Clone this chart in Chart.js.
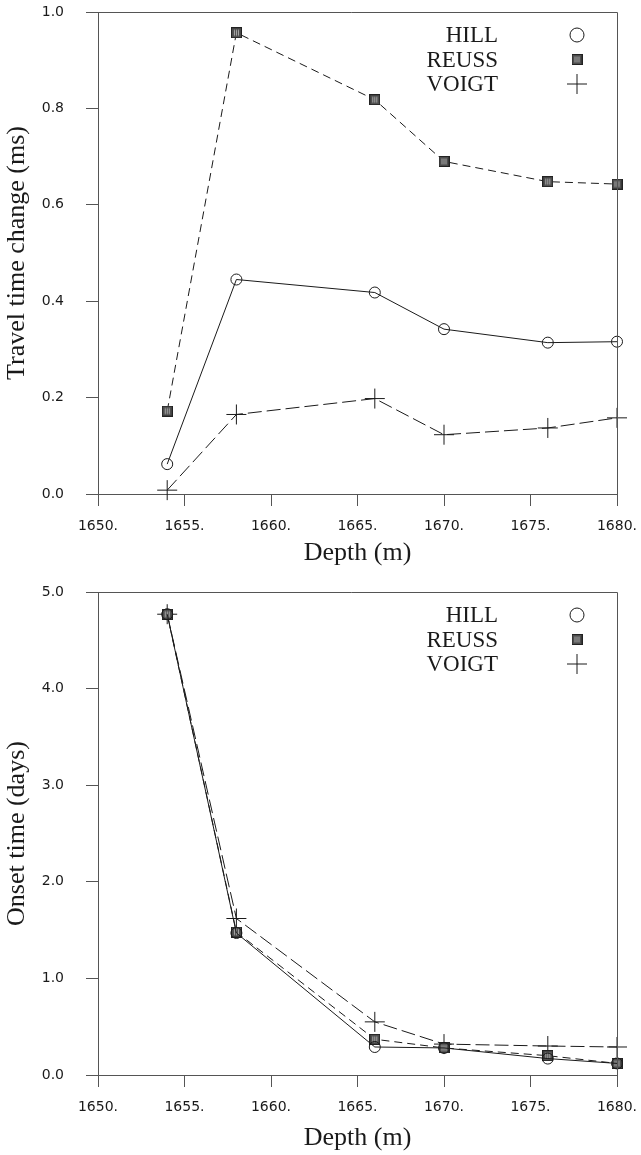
<!DOCTYPE html>
<html>
<head>
<meta charset="utf-8">
<script src="https://cdn.jsdelivr.net/npm/chart.js@4/dist/chart.umd.min.js"></script>
<style>
  body { margin: 0; background: #fff; }
  canvas { display: block; }
</style>
</head>
<body>
<canvas id="travelChart" width="641" height="580"></canvas>
<canvas id="onsetChart" width="641" height="575"></canvas>
<script>
// depths sampled (m)
const depths = [1654, 1658, 1666, 1670, 1676, 1680];
const seriesNames = ['HILL', 'REUSS', 'VOIGT'];

// travel time change (ms)
const travelHill = [0.062, 0.445, 0.418, 0.342, 0.314, 0.316];
const travelReuss = [0.172, 0.957, 0.818, 0.690, 0.648, 0.643];
const travelVoigt = [0.008, 0.165, 0.198, 0.123, 0.137, 0.158];

// onset time (days)
const onsetHill = [4.77, 1.47, 0.29, 0.28, 0.17, 0.12];
const onsetReuss = [4.77, 1.48, 0.37, 0.28, 0.20, 0.12];
const onsetVoigt = [4.77, 1.62, 0.55, 0.32, 0.30, 0.29];

const depthTicks = [1650, 1655, 1660, 1665, 1670, 1675, 1680];

const ink = '#1a1a1a';
const axisGray = '#555';
const serif = '"Liberation Serif", "DejaVu Serif", serif';
const sans = '"DejaVu Sans", sans-serif';

// shaded square marker with light vertical strokes
function makeSquare(size) {
    const c = document.createElement('canvas');
    c.width = size; c.height = size;
    const g = c.getContext('2d');
    g.fillStyle = '#4d4d4d';
    g.fillRect(0, 0, size, size);
    g.strokeStyle = '#222';
    g.lineWidth = 1;
    g.strokeRect(0.5, 0.5, size - 1, size - 1);
    g.strokeStyle = '#a8a8a8';
    [3.5, 5.5, 7.5].forEach(x => {
        g.beginPath();
        g.moveTo(x, 2.5);
        g.lineTo(x, size - 2.5);
        g.stroke();
    });
    return c;
}
const squareMark = makeSquare(11);

const markStyles = [
    { pointStyle: 'circle', radius: 5.5, legendRadius: 7, dash: [] },
    { pointStyle: squareMark, radius: 6, legendRadius: 6, dash: [8, 5] },
    { pointStyle: 'cross', radius: 10, legendRadius: 10, dash: [14, 5] }
];

// frame line on top/right plus the text-then-marker legend
const framePlugin = {
    id: 'frameLegend',
    afterDatasetsDraw(chart) {
        const { ctx, chartArea } = chart;
        ctx.save();
        ctx.strokeStyle = axisGray;
        ctx.lineWidth = 1;
        ctx.beginPath();
        ctx.moveTo(chartArea.left - 12, chartArea.top + 0.5);
        ctx.lineTo(chartArea.right + 0.5, chartArea.top + 0.5);
        ctx.lineTo(chartArea.right + 0.5, chartArea.bottom);
        ctx.stroke();

        ctx.font = '23px ' + serif;
        ctx.textAlign = 'right';
        ctx.textBaseline = 'middle';
        chart.data.datasets.forEach((ds, i) => {
            const y = chartArea.top + 23 + i * 24.5;
            ctx.fillStyle = ink;
            ctx.fillText(ds.label, chartArea.right - 119, y + 1);
            const st = markStyles[i];
            ctx.strokeStyle = ink;
            ctx.fillStyle = 'rgba(0,0,0,0)';
            ctx.lineWidth = 1;
            Chart.helpers.drawPoint(ctx, { pointStyle: st.pointStyle, radius: st.legendRadius, rotation: 0, borderWidth: 1 }, chartArea.right - 40, y);
        });
        ctx.restore();
    }
};

function buildDatasets(values) {
    return values.map((vals, i) => ({
        label: seriesNames[i],
        data: depths.map((d, j) => ({ x: d, y: vals[j] })),
        borderColor: ink,
        borderWidth: 1,
        borderDash: markStyles[i].dash,
        pointStyle: markStyles[i].pointStyle,
        pointRadius: markStyles[i].radius,
        pointHoverRadius: markStyles[i].radius,
        pointBorderColor: ink,
        pointBackgroundColor: 'rgba(0,0,0,0)',
        pointBorderWidth: 1,
        tension: 0,
        clip: false
    }));
}

function makeChart(id, values, yMax, yTitle, xHeight, titlePad) {
    const ctx = document.getElementById(id).getContext('2d');
    return new Chart(ctx, {
        type: 'line',
        data: { datasets: buildDatasets(values) },
        plugins: [framePlugin],
        options: {
            responsive: false,
            animation: false,
            events: [],
            layout: { autoPadding: false, padding: { top: 12, right: 24, left: 0, bottom: 0 } },
            plugins: { legend: { display: false }, tooltip: { enabled: false } },
            scales: {
                x: {
                    type: 'linear',
                    min: 1650,
                    max: 1680,
                    // fixed box: tick padding would otherwise widen the margins
                    afterFit: s => { s.height = xHeight; s.paddingLeft = 0; s.paddingRight = 0; },
                    afterBuildTicks: s => { s.ticks = depthTicks.map(v => ({ value: v })); },
                    grid: { drawOnChartArea: false, tickLength: 12, color: axisGray },
                    border: { color: axisGray },
                    ticks: {
                        maxRotation: 0,
                        padding: 12,
                        color: ink,
                        font: { family: sans, size: 14 },
                        callback: v => v + '.'
                    },
                    title: {
                        display: true,
                        text: 'Depth (m)',
                        color: ink,
                        font: { family: serif, size: 26 },
                        padding: { top: 0, bottom: titlePad }
                    }
                },
                y: {
                    min: 0,
                    max: yMax,
                    afterFit: s => { s.width = 98; s.paddingTop = 0; s.paddingBottom = 0; },
                    grid: { drawOnChartArea: false, tickLength: 12, color: axisGray },
                    border: { color: axisGray },
                    ticks: {
                        stepSize: yMax / 5,
                        padding: 22,
                        color: ink,
                        font: { family: sans, size: 14 },
                        callback: v => v.toFixed(1)
                    },
                    title: {
                        display: true,
                        text: yTitle,
                        color: ink,
                        font: { family: serif, size: 26 },
                        padding: { top: 2, bottom: 0 }
                    }
                }
            }
        }
    });
}

makeChart('travelChart', [travelHill, travelReuss, travelVoigt], 1.0, 'Travel time change (ms)', 86, 11);
makeChart('onsetChart', [onsetHill, onsetReuss, onsetVoigt], 5.0, 'Onset time (days)', 80, 1);
</script>
</body>
</html>
